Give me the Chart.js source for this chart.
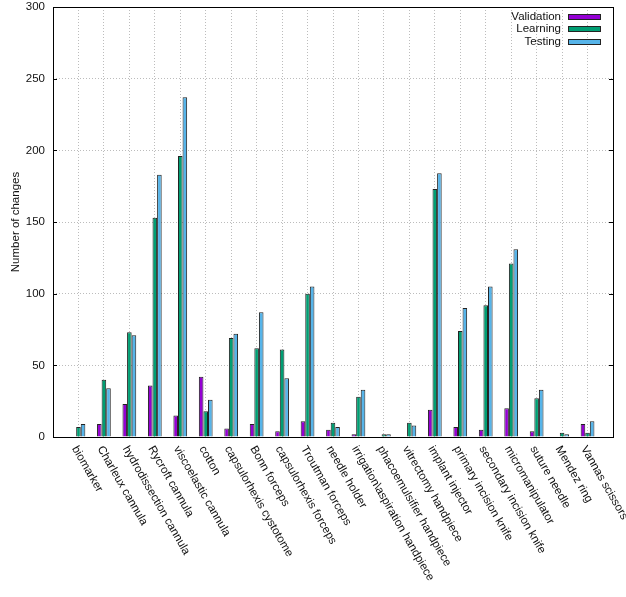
<!DOCTYPE html>
<html><head><meta charset="utf-8">
<script src="https://cdn.jsdelivr.net/npm/chart.js@4.4.1/dist/chart.umd.min.js"></script>
<style>html,body{margin:0;padding:0;background:#fff;}</style>
</head><body>
<canvas id="c" width="626" height="597" style="width:626px;height:597px;display:block"></canvas>
<script>
const categories = ["biomarker","Charleux cannula","hydrodissection cannula","Rycroft cannula","viscoelastic cannula","cotton","capsulorhexis cystotome","Bonn forceps","capsulorhexis forceps","Troutman forceps","needle holder","irrigation\\aspiration handpiece","phacoemulsifier handpiece","vitrectomy handpiece","implant injector","primary incision knife","secondary incision knife","micromanipulator","suture needle","Mendez ring","Vannas scissors"];
const validation = [0,9,23,36,15,42,6,9,4,11,5,2,0,0,19,7,5,20,4,0,9];
const learning   = [7,40,73,153,196,18,69,62,61,100,10,28,2,10,173,74,92,121,27,3,3];
const testing    = [9,34,71,183,237,26,72,87,41,105,7,33,2,8,184,90,105,131,33,2,11];
const yTickValues = [0,50,100,150,200,250,300];
const seriesNames = ["Validation","Learning","Testing"];
const seriesColors = ["#9400d3","#009e73","#56b4e9"];
const seriesValues = [validation, learning, testing];

const FONT = "Liberation Sans, Arial, Helvetica, sans-serif";
const FS = 11.5;
const GRID = "rgba(160,160,160,0.7)";

const framePlugin = {
  id: "frame",
  afterDatasetsDraw(chart) {
    const {ctx, chartArea: a, scales} = chart;
    ctx.save();
    ctx.strokeStyle = "#000";
    ctx.lineWidth = 1;
    ctx.setLineDash([]);
    ctx.beginPath();
    scales.y.ticks.forEach(t => {
      const y = Math.round(scales.y.getPixelForValue(t.value)) + 0.5;
      ctx.moveTo(a.left, y); ctx.lineTo(a.left + 4, y);
      ctx.moveTo(a.right, y); ctx.lineTo(a.right - 4, y);
    });
    ctx.stroke();
    ctx.strokeRect(Math.round(a.left) + 0.5, Math.round(a.top) + 0.5, Math.round(a.right - a.left), Math.round(a.bottom - a.top));
    ctx.restore();
  },
  afterDraw(chart) {
    const {ctx, chartArea: a, scales} = chart;
    ctx.save();
    ctx.font = FS + "px " + FONT;
    ctx.fillStyle = "#111";
    ctx.textAlign = "left";
    ctx.textBaseline = "middle";
    categories.forEach((c, i) => {
      const x = scales.x.getPixelForValue(i);
      ctx.save();
      ctx.translate(x - 4, a.bottom + 10);
      ctx.rotate(Math.PI / 3);
      ctx.fillText(c, 0, 0);
      ctx.restore();
    });
    ctx.textAlign = "right";
    chart.data.datasets.forEach((ds, i) => {
      const y = a.top + 9.5 + i * 12.5;
      ctx.fillStyle = "#111";
      ctx.fillText(ds.label, a.right - 52, y);
      ctx.fillStyle = ds.backgroundColor;
      ctx.fillRect(a.right - 45, Math.round(y - 3), 32, 5);
      ctx.strokeStyle = "#222";
      ctx.lineWidth = 1;
      ctx.strokeRect(a.right - 45 + 0.5, Math.round(y - 3) + 0.5, 32, 5);
    });
    ctx.restore();
  }
};

new Chart(document.getElementById("c"), {
  type: "bar",
  data: {
    datasets: seriesNames.map((name, k) => ({
      label: name,
      data: seriesValues[k].map((v, i) => ({x: i, y: v})),
      backgroundColor: seriesColors[k],
      borderColor: "#222",
      borderWidth: 1,
      borderSkipped: "start",
      categoryPercentage: 0.54,
      barPercentage: 1.0
    }))
  },
  options: {
    responsive: false,
    animation: false,
    devicePixelRatio: 1,
    layout: {padding: {top: 7, right: 13, left: 0, bottom: 0}},
    plugins: {legend: {display: false}, tooltip: {enabled: false}},
    scales: {
      x: {
        type: "linear",
        offset: false,
        min: -1, max: 21,
        afterFit: s => { s.height = 160; s.paddingLeft = 0; s.paddingRight = 0; },
        ticks: {display: false, stepSize: 1},
        grid: {offset: false, color: GRID, drawTicks: false, lineWidth: 1},
        border: {display: false, dash: [1,2]}
      },
      y: {
        min: 0, max: 300,
        afterFit: s => { s.width = 53; s.paddingTop = 0; s.paddingBottom = 0; },
        afterBuildTicks: s => { s.ticks = yTickValues.map(v => ({value: v})); },
        ticks: {font: {family: FONT, size: FS}, color: "#111", padding: 8},
        grid: {color: GRID, drawTicks: false, lineWidth: 1},
        border: {display: false, dash: [1,2]},
        title: {display: true, text: "Number of changes", font: {family: FONT, size: FS}, color: "#111", padding: {top: 9, bottom: 0}}
      }
    }
  },
  plugins: [framePlugin]
});
</script>
</body></html>
